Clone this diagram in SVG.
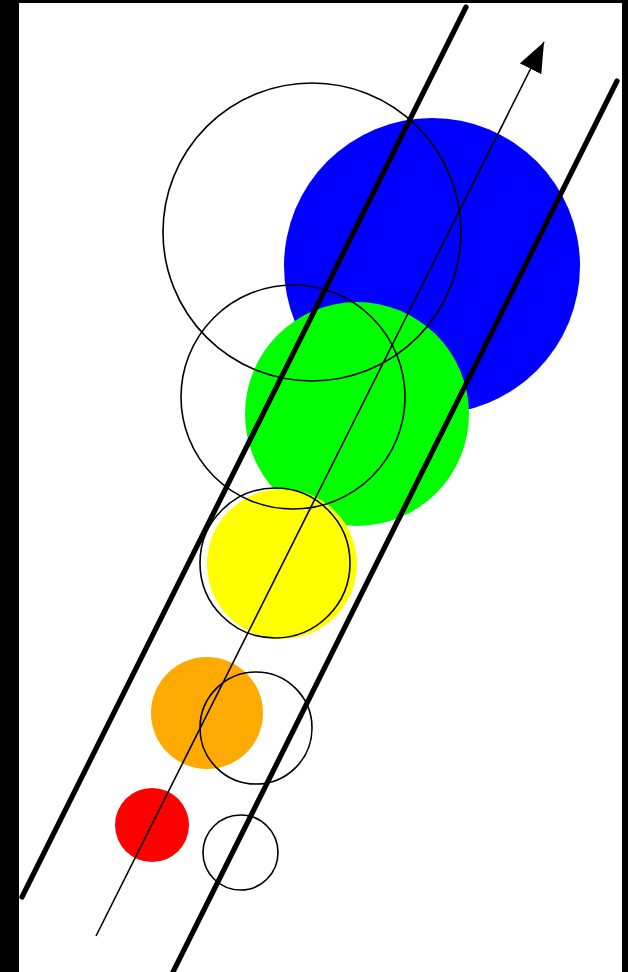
<svg xmlns="http://www.w3.org/2000/svg" width="628" height="972" viewBox="0 0 628 972">
<style>
.ring{fill:none;stroke:#000;stroke-width:1.6}
.rail{stroke:#000;stroke-width:5.2;stroke-linecap:round;fill:none}
.axis{stroke:#000;stroke-width:1.6;fill:none}
</style>
<defs>
<marker id="ah" markerUnits="userSpaceOnUse" markerWidth="32" markerHeight="26" refX="30" refY="12" orient="auto">
<path d="M0,0 L30,12 L0,24 Z" fill="#000"/>
</marker>
</defs>
<rect x="0" y="0" width="628" height="972" fill="#000"/>
<rect x="19" y="3" width="603" height="969" fill="#fff"/>
<g id="filled">
<circle id="blue" cx="432" cy="266" r="148" fill="#0000ff"/>
<circle id="green" cx="357" cy="414" r="112" fill="#00ff00"/>
<circle id="yellow" cx="282" cy="564" r="75" fill="#ffff00"/>
<circle id="orange" cx="207" cy="713" r="56" fill="#ffaa00"/>
<circle id="red" cx="152" cy="825" r="37" fill="#ff0000"/>
</g>
<g id="outlines">
<circle id="o1" class="ring" cx="312" cy="232" r="149"/>
<circle id="o2" class="ring" cx="293" cy="397" r="112"/>
<circle id="o3" class="ring" cx="275" cy="563" r="75"/>
<circle id="o4" class="ring" cx="256" cy="728" r="56"/>
<circle id="o5" class="ring" cx="240.5" cy="852.5" r="37.5"/>
</g>
<g id="connectors">
<line class="rail" x1="466" y1="7" x2="22" y2="897"/>
<line class="rail" x1="617" y1="81" x2="172" y2="974"/>
<line class="axis" x1="96" y1="936" x2="544" y2="42" marker-end="url(#ah)"/>
</g>
</svg>
